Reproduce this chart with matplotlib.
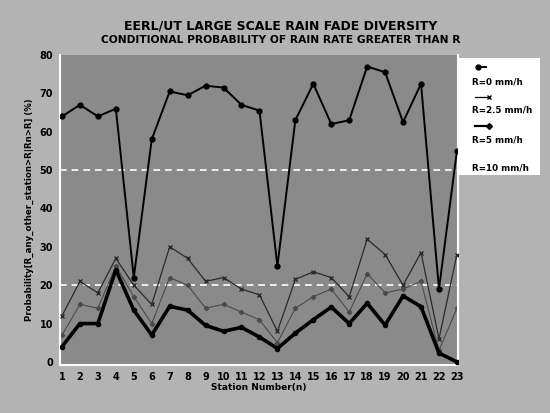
import matplotlib.pyplot as plt
import numpy as np
from matplotlib.lines import Line2D

# station numbers and conditional probabilities (%)
station = np.arange(1, 24)
p_r0 = [64, 67, 64, 66, 22, 58, 70.5, 69.5, 72, 71.5, 67, 65.5, 25, 63, 72.5, 62, 63,
        77, 75.5, 62.5, 72.5, 19, 55]
p_r25 = [12, 21, 18, 27, 20, 15, 30, 27, 21, 22, 19, 17.5, 8, 21.5, 23.5, 22, 17,
         32, 28, 20, 28.5, 6, 28]
p_r5 = [7, 15, 14, 25, 17, 10, 22, 20, 14, 15, 13, 11, 5, 14, 17, 19, 13,
        23, 18, 19, 21, 3, 14]
p_r10 = [4, 10, 10, 24, 13.5, 7, 14.5, 13.5, 9.5, 8, 9, 6.5, 3.5, 7.5, 11, 14.3, 10,
         15.3, 9.6, 17.2, 14.4, 2.3, 0]
yticks = [0, 10, 20, 30, 40, 50, 60, 70, 80]
gridvals = [20, 50]

fig = plt.figure(figsize=(5.5, 4.13), dpi=100)
fig.patch.set_facecolor("#b3b3b3")

ax = fig.add_axes([60/550, 1-365/413, 398/550, 310/413])
ax.set_facecolor("#8a8a8a")

for g in gridvals:
    ax.axhline(g, color="white", lw=1.2, ls=(0, (4, 3)), zorder=1)

ax.plot(station, p_r5, color="#4a4a4a", lw=0.8, marker="D", ms=2.2, zorder=2)
ax.plot(station, p_r25, color="#2a2a2a", lw=0.9, marker="x", ms=3.5, zorder=3)
ax.plot(station, p_r10, color="black", lw=2.6, marker="o", ms=3, zorder=4)
ax.plot(station, p_r0, color="black", lw=1.4, marker="o", ms=3.5, zorder=5)

ax.set_xlim(0.89, 23.06)
ax.set_ylim(-0.8, 80)
ax.set_xticks(station)
ax.set_yticks(yticks)
ax.tick_params(length=0, labelsize=7)
ax.tick_params(axis="x", pad=5)
ax.tick_params(axis="y", pad=5)
for lab in ax.get_xticklabels() + ax.get_yticklabels():
    lab.set_fontweight("bold")
for s in ax.spines.values():
    s.set_color("white")
    s.set_linewidth(1.5)
ax.spines["top"].set_visible(False)

ax.set_xlabel("Station Number(n)", fontsize=6.5, fontweight="bold", labelpad=1)
ax.set_ylabel("Probability[R_any_other_station>R|Rn>R] (%)", fontsize=6.2,
              fontweight="bold", labelpad=4)

fig.text(0.511, 1-26/413, "EERL/UT LARGE SCALE RAIN FADE DIVERSITY",
         ha="center", va="center", fontsize=9, fontweight="bold")
fig.text(0.511, 1-40/413, "CONDITIONAL PROBABILITY OF RAIN RATE GREATER THAN R",
         ha="center", va="center", fontsize=7.7, fontweight="bold")

# legend box: symbol drawn above each label
lax = fig.add_axes([458/550, 1-175/413, 82/550, 117/413])
lax.set_facecolor("white")
lax.set_xlim(0, 82)
lax.set_ylim(117, 0)
lax.set_xticks([])
lax.set_yticks([])
for s in lax.spines.values():
    s.set_visible(False)
lax.add_line(Line2D([20, 28], [9, 9], color="black", lw=1.4, marker="o", ms=3.5,
                    markevery=[0]))
lax.add_line(Line2D([17, 31], [39, 39], color="black", lw=0.9, marker="x", ms=3.5,
                    markevery=[1]))
lax.add_line(Line2D([17, 31], [68, 68], color="black", lw=1.6, marker="D", ms=3,
                    markevery=[1]))
labels = ["R=0 mm/h", "R=2.5 mm/h", "R=5 mm/h", "R=10 mm/h"]
ypos = [24, 52, 82, 110]
for t, y in zip(labels, ypos):
    lax.text(14, y, t, fontsize=6.3, fontweight="bold", va="center", ha="left")

fig.savefig("out.png", dpi=100, facecolor=fig.get_facecolor())
